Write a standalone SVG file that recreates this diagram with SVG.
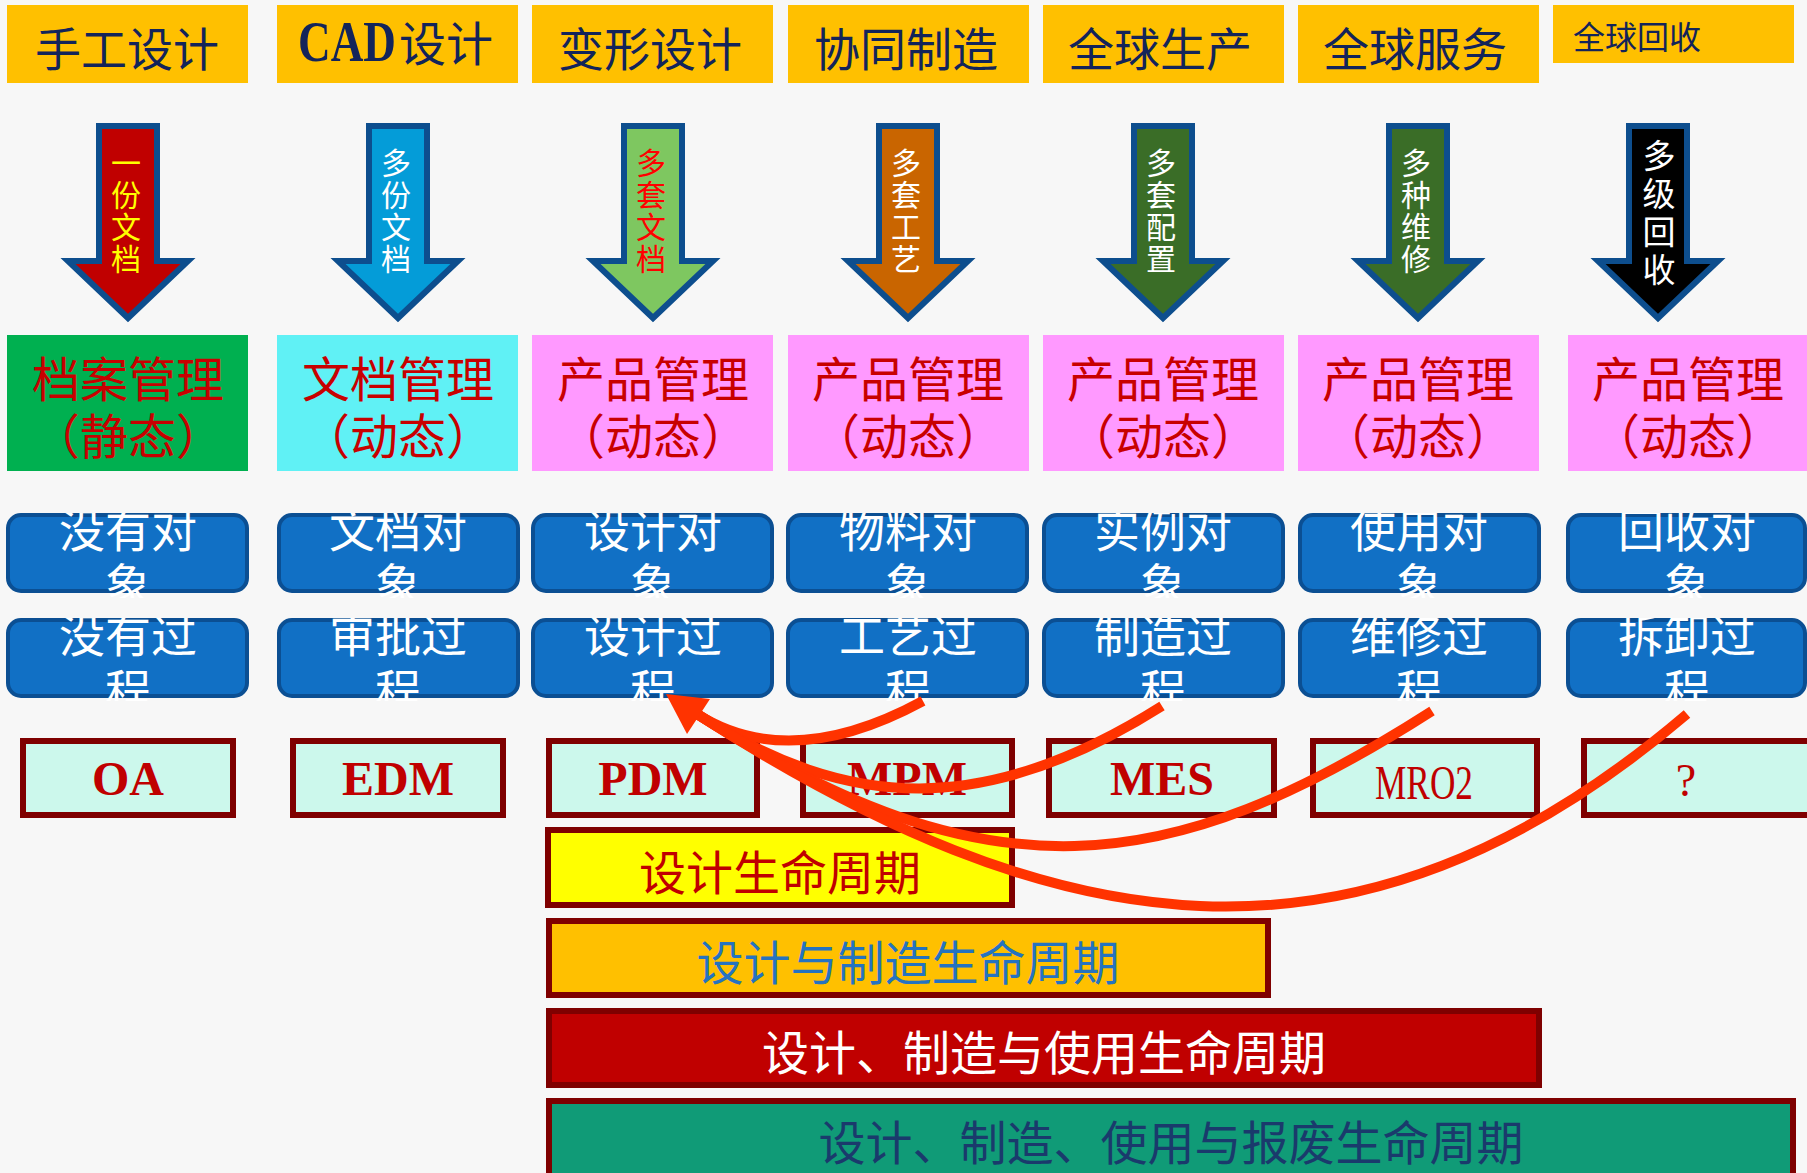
<svg xmlns="http://www.w3.org/2000/svg" width="1807" height="1173" viewBox="0 0 1807 1173">
<style>
.cjk{font-family:"Noto Sans CJK SC","Liberation Sans",sans-serif}
.ser{font-family:"Liberation Serif","Noto Sans CJK SC",serif;font-weight:bold}
.top{fill:#FFC000}
.toptx{fill:#13245A;font-size:46px;text-anchor:middle}
.arr{stroke:#0D4E8E;stroke-width:6;stroke-linejoin:miter}
.atx{font-size:30px;text-anchor:middle}
.pm{font-size:48px;fill:#C80000;text-anchor:middle}
.blue{fill:#1170C5;stroke:#0B4F93;stroke-width:4}
.btx{fill:#fff;font-size:46px;text-anchor:middle}
.sys{fill:#CCF8EC;stroke:#7F0000;stroke-width:6}
.systx{fill:#C00000;font-size:48px;text-anchor:middle}
.bar{stroke:#7F0000;stroke-width:6}
.bartx{font-size:47px;text-anchor:middle}
.curve{fill:none;stroke:#FF3300;stroke-width:10;stroke-linecap:butt}
</style>
<defs>
<clipPath id="clipR4"><rect x="0" y="513" width="1807" height="85"/></clipPath>
<clipPath id="clipR5"><rect x="0" y="618" width="1807" height="83"/></clipPath>
</defs>
<rect x="0" y="0" width="1807" height="1173" fill="#F7F7F7"/>

<!-- top row -->
<g id="t1"><rect class="top" x="7" y="5" width="241" height="78"/><text class="cjk toptx" x="127" y="66">手工设计</text></g>
<g id="t2"><rect class="top" x="277" y="5" width="241" height="78"/><text class="ser" x="298" y="61" font-size="56" fill="#13245A" textLength="98" lengthAdjust="spacingAndGlyphs">CAD</text><text class="cjk" x="399" y="61" font-size="47" fill="#13245A">设计</text></g>
<g id="t3"><rect class="top" x="532" y="5" width="241" height="78"/><text class="cjk toptx" x="650" y="66">变形设计</text></g>
<g id="t4"><rect class="top" x="788" y="5" width="241" height="78"/><text class="cjk toptx" x="906" y="66">协同制造</text></g>
<g id="t5"><rect class="top" x="1043" y="5" width="241" height="78"/><text class="cjk toptx" x="1160" y="66">全球生产</text></g>
<g id="t6"><rect class="top" x="1298" y="5" width="241" height="78"/><text class="cjk toptx" x="1415" y="66">全球服务</text></g>
<g id="t7"><rect class="top" x="1553" y="5" width="241" height="58"/><text class="cjk" x="1573" y="49" font-size="32" fill="#13245A">全球回收</text></g>

<!-- arrows -->
<g id="a1"><polygon class="arr" fill="#C00000" points="99,126 157,126 157,261 188,261 128,318 68,261 99,261"/>
<text class="cjk atx" fill="#FFFF00"><tspan x="126" y="174">一</tspan><tspan x="126" y="206">份</tspan><tspan x="126" y="238">文</tspan><tspan x="126" y="270">档</tspan></text></g>
<g id="a2"><polygon class="arr" fill="#049CD8" points="369,126 427,126 427,261 458,261 398,318 338,261 369,261"/>
<text class="cjk atx" fill="#FFFFFF"><tspan x="396" y="174">多</tspan><tspan x="396" y="206">份</tspan><tspan x="396" y="238">文</tspan><tspan x="396" y="270">档</tspan></text></g>
<g id="a3"><polygon class="arr" fill="#7EC760" points="624,126 682,126 682,261 713,261 653,318 593,261 624,261"/>
<text class="cjk atx" fill="#FF0000"><tspan x="651" y="174">多</tspan><tspan x="651" y="206">套</tspan><tspan x="651" y="238">文</tspan><tspan x="651" y="270">档</tspan></text></g>
<g id="a4"><polygon class="arr" fill="#C96500" points="879,126 937,126 937,261 968,261 908,318 848,261 879,261"/>
<text class="cjk atx" fill="#FFFFFF"><tspan x="906" y="174">多</tspan><tspan x="906" y="206">套</tspan><tspan x="906" y="238">工</tspan><tspan x="906" y="270">艺</tspan></text></g>
<g id="a5"><polygon class="arr" fill="#3A6D27" points="1134,126 1192,126 1192,261 1223,261 1163,318 1103,261 1134,261"/>
<text class="cjk atx" fill="#FFFFFF"><tspan x="1161" y="174">多</tspan><tspan x="1161" y="206">套</tspan><tspan x="1161" y="238">配</tspan><tspan x="1161" y="270">置</tspan></text></g>
<g id="a6"><polygon class="arr" fill="#3A6D27" points="1389,126 1447,126 1447,261 1478,261 1418,318 1358,261 1389,261"/>
<text class="cjk atx" fill="#FFFFFF"><tspan x="1416" y="174">多</tspan><tspan x="1416" y="206">种</tspan><tspan x="1416" y="238">维</tspan><tspan x="1416" y="270">修</tspan></text></g>
<g id="a7"><polygon class="arr" fill="#000000" points="1629,126 1687,126 1687,261 1718,261 1658,318 1598,261 1629,261"/>
<text class="cjk" font-size="33" text-anchor="middle" fill="#FFFFFF"><tspan x="1659" y="168">多</tspan><tspan x="1659" y="206">级</tspan><tspan x="1659" y="244">回</tspan><tspan x="1659" y="282">收</tspan></text></g>

<!-- management row -->
<g id="m1"><rect x="7" y="335" width="241" height="136" fill="#00B050"/><text class="cjk pm"><tspan x="128" y="397">档案管理</tspan><tspan x="128" y="454">（静态）</tspan></text></g>
<g id="m2"><rect x="277" y="335" width="241" height="136" fill="#60F1F5"/><text class="cjk pm"><tspan x="398" y="397">文档管理</tspan><tspan x="398" y="454">（动态）</tspan></text></g>
<g id="m3"><rect x="532" y="335" width="241" height="136" fill="#FF99FF"/><text class="cjk pm"><tspan x="653" y="397">产品管理</tspan><tspan x="653" y="454">（动态）</tspan></text></g>
<g id="m4"><rect x="788" y="335" width="241" height="136" fill="#FF99FF"/><text class="cjk pm"><tspan x="908" y="397">产品管理</tspan><tspan x="908" y="454">（动态）</tspan></text></g>
<g id="m5"><rect x="1043" y="335" width="241" height="136" fill="#FF99FF"/><text class="cjk pm"><tspan x="1163" y="397">产品管理</tspan><tspan x="1163" y="454">（动态）</tspan></text></g>
<g id="m6"><rect x="1298" y="335" width="241" height="136" fill="#FF99FF"/><text class="cjk pm"><tspan x="1418" y="397">产品管理</tspan><tspan x="1418" y="454">（动态）</tspan></text></g>
<g id="m7"><rect x="1568" y="335" width="239" height="136" fill="#FF99FF"/><text class="cjk pm"><tspan x="1688" y="397">产品管理</tspan><tspan x="1688" y="454">（动态）</tspan></text></g>

<!-- object row -->
<g id="o1"><rect class="blue" x="8" y="515" width="239" height="76" rx="13"/><text class="cjk btx" clip-path="url(#clipR4)"><tspan x="128" y="547">没有对</tspan><tspan x="128" y="602">象</tspan></text></g>
<g id="o2"><rect class="blue" x="279" y="515" width="239" height="76" rx="13"/><text class="cjk btx" clip-path="url(#clipR4)"><tspan x="398" y="547">文档对</tspan><tspan x="398" y="602">象</tspan></text></g>
<g id="o3"><rect class="blue" x="533" y="515" width="239" height="76" rx="13"/><text class="cjk btx" clip-path="url(#clipR4)"><tspan x="653" y="547">设计对</tspan><tspan x="653" y="602">象</tspan></text></g>
<g id="o4"><rect class="blue" x="788" y="515" width="239" height="76" rx="13"/><text class="cjk btx" clip-path="url(#clipR4)"><tspan x="908" y="547">物料对</tspan><tspan x="908" y="602">象</tspan></text></g>
<g id="o5"><rect class="blue" x="1044" y="515" width="239" height="76" rx="13"/><text class="cjk btx" clip-path="url(#clipR4)"><tspan x="1163" y="547">实例对</tspan><tspan x="1163" y="602">象</tspan></text></g>
<g id="o6"><rect class="blue" x="1300" y="515" width="239" height="76" rx="13"/><text class="cjk btx" clip-path="url(#clipR4)"><tspan x="1419" y="547">使用对</tspan><tspan x="1419" y="602">象</tspan></text></g>
<g id="o7"><rect class="blue" x="1568" y="515" width="237" height="76" rx="13"/><text class="cjk btx" clip-path="url(#clipR4)"><tspan x="1687" y="547">回收对</tspan><tspan x="1687" y="602">象</tspan></text></g>

<!-- process row -->
<g id="p1"><rect class="blue" x="8" y="620" width="239" height="76" rx="13"/><text class="cjk btx" clip-path="url(#clipR5)"><tspan x="128" y="652">没有过</tspan><tspan x="128" y="708">程</tspan></text></g>
<g id="p2"><rect class="blue" x="279" y="620" width="239" height="76" rx="13"/><text class="cjk btx" clip-path="url(#clipR5)"><tspan x="398" y="652">审批过</tspan><tspan x="398" y="708">程</tspan></text></g>
<g id="p3"><rect class="blue" x="533" y="620" width="239" height="76" rx="13"/><text class="cjk btx" clip-path="url(#clipR5)"><tspan x="653" y="652">设计过</tspan><tspan x="653" y="708">程</tspan></text></g>
<g id="p4"><rect class="blue" x="788" y="620" width="239" height="76" rx="13"/><text class="cjk btx" clip-path="url(#clipR5)"><tspan x="908" y="652">工艺过</tspan><tspan x="908" y="708">程</tspan></text></g>
<g id="p5"><rect class="blue" x="1044" y="620" width="239" height="76" rx="13"/><text class="cjk btx" clip-path="url(#clipR5)"><tspan x="1163" y="652">制造过</tspan><tspan x="1163" y="708">程</tspan></text></g>
<g id="p6"><rect class="blue" x="1300" y="620" width="239" height="76" rx="13"/><text class="cjk btx" clip-path="url(#clipR5)"><tspan x="1419" y="652">维修过</tspan><tspan x="1419" y="708">程</tspan></text></g>
<g id="p7"><rect class="blue" x="1568" y="620" width="237" height="76" rx="13"/><text class="cjk btx" clip-path="url(#clipR5)"><tspan x="1687" y="652">拆卸过</tspan><tspan x="1687" y="708">程</tspan></text></g>

<!-- systems row -->
<g id="s1"><rect class="sys" x="23" y="741" width="210" height="74"/><text class="ser systx" x="128" y="795">OA</text></g>
<g id="s2"><rect class="sys" x="293" y="741" width="210" height="74"/><text class="ser systx" x="398" y="795">EDM</text></g>
<g id="s3"><rect class="sys" x="549" y="741" width="208" height="74"/><text class="ser systx" x="653" y="795">PDM</text></g>
<g id="s4"><rect class="sys" x="803" y="741" width="209" height="74"/><text class="ser systx" x="907" y="795">MPM</text></g>
<g id="s5"><rect class="sys" x="1049" y="741" width="225" height="74"/><text class="ser systx" x="1162" y="795">MES</text></g>
<g id="s6"><rect class="sys" x="1313" y="741" width="224" height="74"/><text x="1375" y="799" font-family="Liberation Serif, serif" font-size="48" fill="#C00000" textLength="98" lengthAdjust="spacingAndGlyphs">MRO2</text></g>
<g id="s7"><rect class="sys" x="1584" y="741" width="226" height="74"/><text x="1686" y="796" font-family="Liberation Serif, serif" font-size="46" fill="#C00000" text-anchor="middle">?</text></g>

<!-- lifecycle bars -->
<g id="b1"><rect class="bar" x="548" y="830" width="464" height="75" fill="#FFFF00"/><text class="cjk bartx" x="780" y="890" fill="#C00000">设计生命周期</text></g>
<g id="b2"><rect class="bar" x="549" y="921" width="719" height="74" fill="#FFC000"/><text class="cjk bartx" x="908" y="980" fill="#2573C0">设计与制造生命周期</text></g>
<g id="b3"><rect class="bar" x="549" y="1011" width="990" height="74" fill="#C00000"/><text class="cjk bartx" x="1044" y="1070" fill="#FFFFFF">设计、制造与使用生命周期</text></g>
<g id="b4"><rect class="bar" x="549" y="1101" width="1244" height="90" fill="#109B77"/><text class="cjk bartx" x="1171" y="1160" fill="#1A3A6C">设计、制造、使用与报废生命周期</text></g>

<!-- connectors -->
<g id="connectors">
<path class="curve" d="M923,701 Q790,773 697,714"/>
<path class="curve" d="M1162,706 C985,818 847,811 697,714"/>
<path class="curve" d="M1432,711 C1168,880 988,901 697,714"/>
<path class="curve" d="M1687,714 C1354,998 1051,942 697,714"/>
<polygon fill="#FF3300" points="666,694 710,699 687,734"/>
</g>
</svg>
